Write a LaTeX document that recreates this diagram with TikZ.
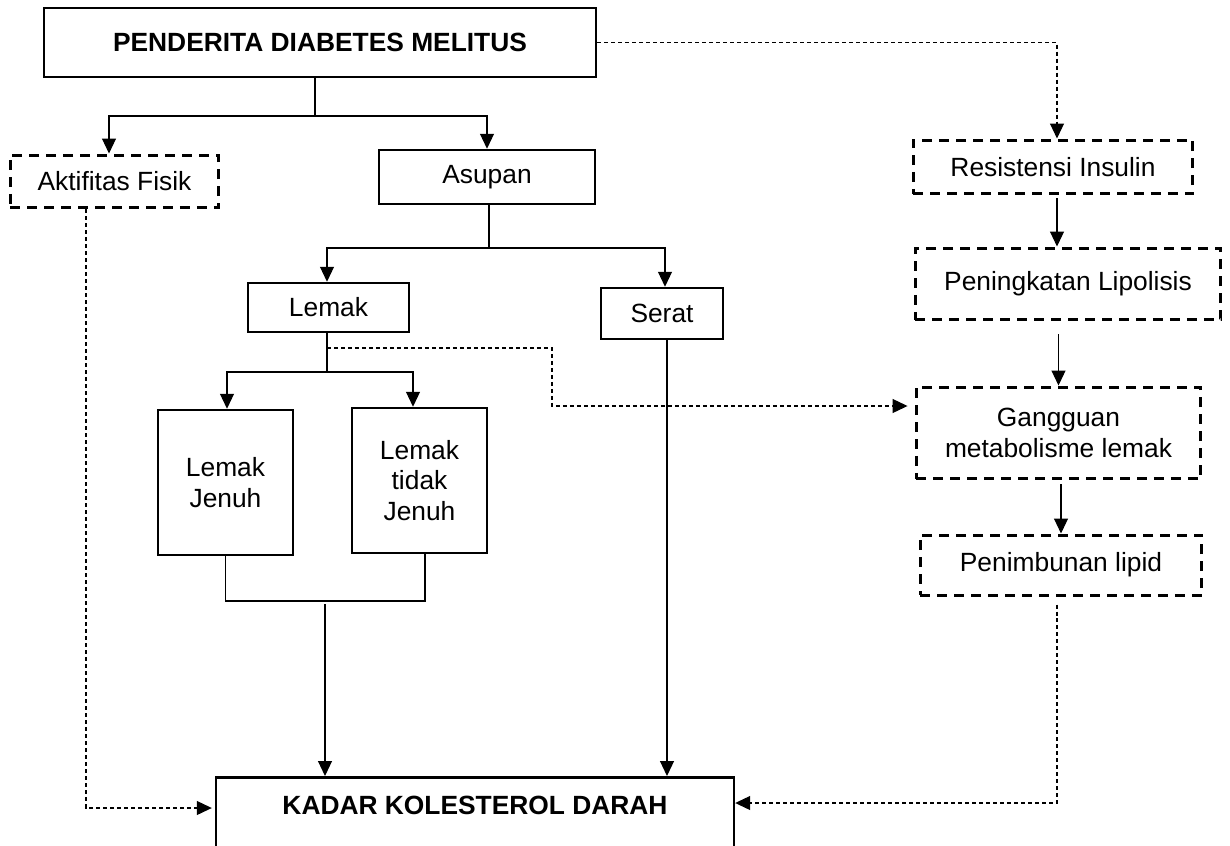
\documentclass[tikz,border=0pt]{standalone}
\usepackage{fontspec}
\setmainfont{Liberation Sans}
\usetikzlibrary{arrows.meta}

\begin{document}
\begin{tikzpicture}[x = .02cm, y = -.02cm,
  font = \fontsize{15}{17.5}\selectfont,
  box/.style = {draw, line width = .5mm, align = center, inner sep = 0pt},
  dbox/.style = {box, line width = .6mm, dash pattern = on 2mm off 1.4mm},
  line/.style = {draw, line width = .22mm},
  arr/.style = {line, -{Triangle[length = 3mm, width = 2.8mm]}},
  darr/.style = {arr, dash pattern = on .8mm off .6mm}]
\useasboundingbox (0,0) rectangle (1230,845);
\clip (0,0) rectangle (1230,845);
% left part
\node[box, font = \fontsize{15}{17.5}\selectfont\bfseries, minimum width = 11.04cm, minimum height = 1.38cm] (title) at (320,42.5) {PENDERITA DIABETES MELITUS};
\node[dbox, minimum width = 4.18cm, minimum height = 1.06cm] (fisik) at (114.5,181.5) {Aktifitas Fisik};
\node[box, minimum width = 4.32cm, minimum height = 1.08cm] (asupan) at (487,177) {Asupan};
\node[box, minimum width = 3.22cm, minimum height = .98cm] (lemak) at (328.5,307.5) {Lemak};
\node[box, minimum width = 2.44cm, minimum height = 1.02cm] (serat) at (662,313.5) {Serat};
\node[box, minimum width = 2.7cm, minimum height = 2.9cm] (jenuh) at (225.5,482.5) {Lemak\\Jenuh};
\node[box, minimum width = 2.7cm, minimum height = 2.9cm] (tdkjenuh) at (419.5,480.5) {Lemak\\tidak\\Jenuh};
\node[box, minimum width = 10.36cm, minimum height = 2.4cm, anchor = north] (kadar) at (475,776) {};
\node[font = \fontsize{15}{17.5}\selectfont\bfseries] (kadarlbl) at (475,805) {KADAR KOLESTEROL DARAH};
% right part
\node[dbox, minimum width = 5.6cm, minimum height = 1.08cm] (resist) at (1053,167) {Resistensi Insulin};
\node[dbox, minimum width = 6.12cm, minimum height = 1.44cm] (lipol) at (1068,284) {Peningkatan Lipolisis};
\node[dbox, minimum width = 5.7cm, minimum height = 1.84cm] (gangguan) at (1058.5,433) {Gangguan\\metabolisme lemak};
\node[dbox, minimum width = 5.64cm, minimum height = 1.2cm] (timbun) at (1061,565) {Penimbunan lipid};

\coordinate (top) at (315,116);
\draw[line] (title.south -| top) -- (top);
\draw[arr] (top) -| ([xshift = -.11cm]fisik.north);
\draw[arr] (top) -| (asupan.north);
\coordinate (mid) at (489,248);
\draw[line] (asupan.south -| mid) -- (mid);
\draw[arr] (mid) -| ([xshift = -.03cm]lemak.north);
\draw[arr] (mid) -| ([xshift = .06cm]serat.north);
\coordinate (low) at (327,372);
\draw[line] (lemak.south -| low) -- (low);
\draw[arr] (low) -| ([xshift = .03cm]jenuh.north);
\draw[arr] (low) -| ([xshift = -.13cm]tdkjenuh.north);
\coordinate (fat) at (327,348);
\coordinate (bend) at (552,406);
\draw[darr, shorten >= .14cm] (fat) -| (bend) -- (bend -| gangguan.west);
\coordinate (join) at (0,601);
\draw[line] (jenuh.south) -- (jenuh.south |- join) -- ([xshift = .11cm]tdkjenuh.south |- join) -- ([xshift = .11cm]tdkjenuh.south);
\coordinate (feed) at (325,604);
\draw[arr] (feed) -- (feed |- kadar.north);
\draw[arr] ([xshift = .1cm]serat.south) -- ([xshift = .1cm]serat.south |- kadar.north);
\coordinate (act) at (86,808);
\draw[darr, shorten >= .06cm] (fisik.south -| act) -- (act) -- (act -| kadar.west);
\draw[darr] (title.east) -| ([xshift = .08cm]resist.north);
\draw[arr, shorten <= .06cm] ([xshift = .08cm]resist.south) -- ([xshift = .08cm]resist.south |- lipol.north);
\draw[arr, shorten <= .26cm] (lipol.south -| gangguan.north) -- (gangguan.north);
\draw[arr, shorten <= .08cm] (gangguan.south -| timbun.north) -- (timbun.north);
\coordinate (lip) at (1057,803);
\draw[darr] (timbun.south -| lip) ++(0,8) -- (lip) -- (lip -| kadar.east);
\end{tikzpicture}
\end{document}
